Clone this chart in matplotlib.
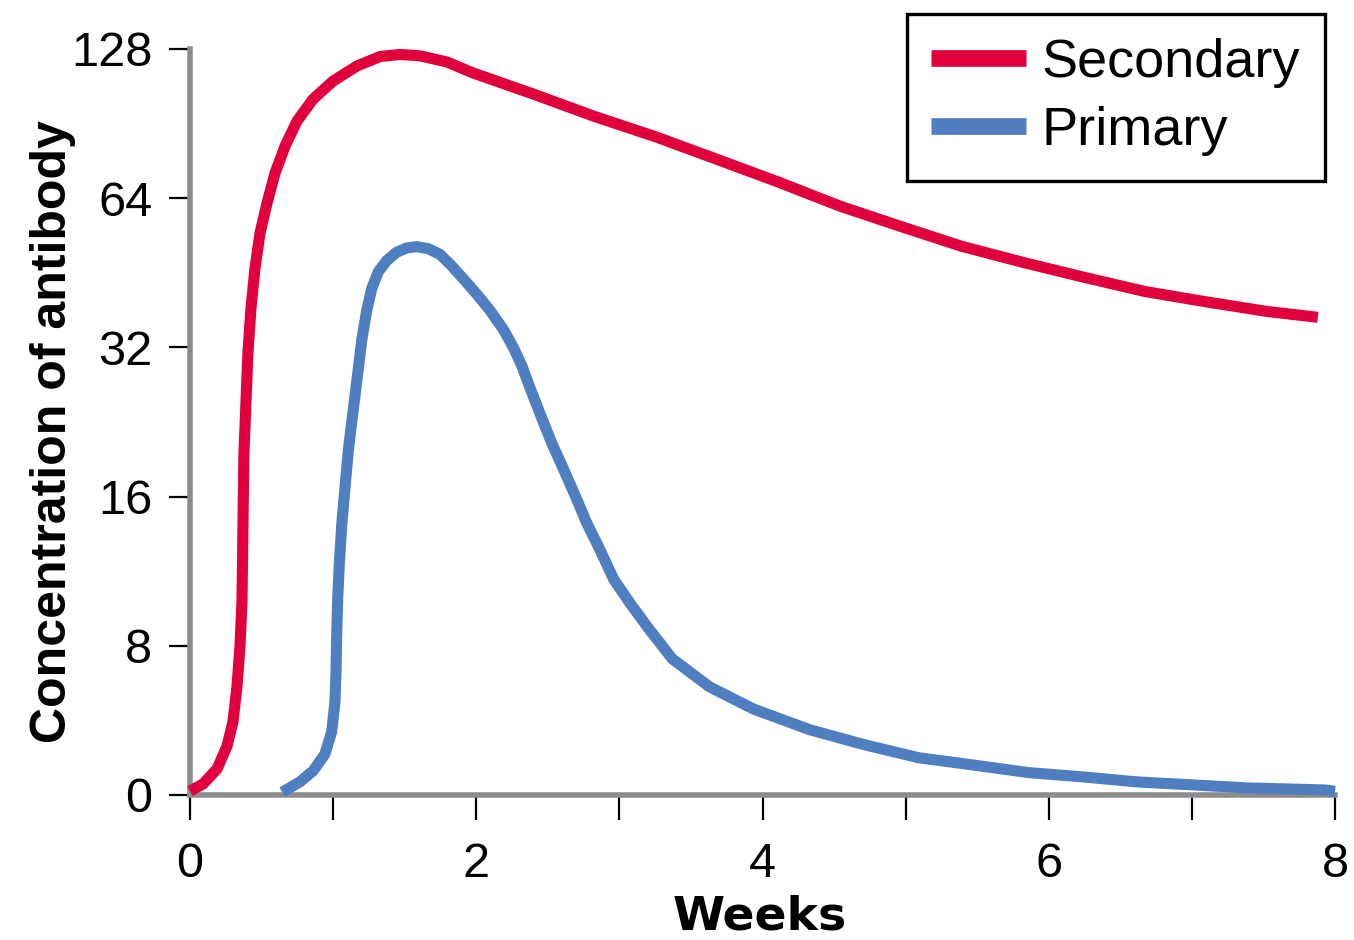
import numpy as np
import matplotlib
matplotlib.use("Agg")
import matplotlib.pyplot as plt

# Antibody concentration after secondary and primary exposure
secondary_weeks = [0.000, 0.091, 0.189, 0.259, 0.300, 0.328, 0.349, 0.363, 0.368,
                   0.372, 0.377, 0.391, 0.405, 0.426, 0.454, 0.489, 0.538, 0.594,
                   0.664, 0.748, 0.860, 1.000, 1.167, 1.328, 1.468, 1.607, 1.796,
                   1.978, 2.40, 2.82, 3.26, 3.68, 4.11, 4.54, 4.96, 5.39, 5.82,
                   6.25, 6.67, 7.11, 7.53, 7.88]
secondary_conc = [0.21, 0.59, 1.40, 2.63, 3.92, 5.80, 7.94, 9.8, 12.4,
                  15.6, 19.6, 24.8, 31.3, 38.4, 46.2, 54.4, 62.5, 71.9,
                  81.5, 91.6, 101.4, 110.3, 118.3, 123.6, 124.8, 124.0, 120.5,
                  114.5, 103.8, 93.7, 85.0, 76.7, 69.0, 61.7, 56.2, 51.2, 47.5,
                  44.3, 41.5, 39.5, 37.8, 36.8]

primary_weeks = [0.645, 0.769, 0.862, 0.943, 0.990, 1.013, 1.020, 1.025, 1.032,
                 1.044, 1.060, 1.083, 1.106, 1.137, 1.169, 1.200, 1.235, 1.270,
                 1.316, 1.375, 1.444, 1.514, 1.584, 1.666, 1.747, 1.829, 1.910,
                 2.003, 2.096, 2.189, 2.259, 2.318, 2.376, 2.446, 2.528, 2.609,
                 2.690, 2.77, 2.87, 2.96, 3.08, 3.20, 3.37, 3.63, 3.94, 4.33,
                 4.71, 5.09, 5.48, 5.86, 6.24, 6.62, 7.01, 7.39, 7.93, 8.00]
primary_conc = [0.15, 0.71, 1.31, 2.2, 3.4, 5.0, 6.6, 8.4, 9.95,
                11.8, 14.0, 16.7, 19.8, 23.5, 27.9, 33.1, 38.0, 42.1,
                45.5, 47.9, 49.8, 50.8, 51.1, 50.6, 49.3, 46.7, 44.0,
                41.0, 38.0, 34.8, 32.0, 29.4, 26.5, 23.5, 20.5, 18.2,
                16.1, 14.2, 12.4, 10.9, 9.7, 8.7, 7.3, 5.8, 4.6, 3.5,
                2.7, 2.0, 1.6, 1.2, 0.97, 0.70, 0.54, 0.38, 0.27, 0.2]

y_ticks = [0, 8, 16, 32, 64, 128]
x_ticks = [0, 1, 2, 3, 4, 5, 6, 7, 8]
x_tick_labels = ["0", "", "2", "", "4", "", "6", "", "8"]

RED = "#E0003C"
BLUE = "#4F7EC1"


# Linear from 0 to 8, doubling steps above 8
def forward(v):
    v = np.asarray(v, dtype=float)
    with np.errstate(divide="ignore", invalid="ignore"):
        logpart = 1.0 + np.log2(np.maximum(v, 1e-12) / 8.0)
    return np.where(v < 8, v / 8.0, logpart)


def inverse(p):
    p = np.asarray(p, dtype=float)
    return np.where(p < 1, 8.0 * p, 8.0 * np.power(2.0, p - 1.0))


fig = plt.figure(figsize=(13.54, 9.40), dpi=100)
ax = fig.add_axes([190 / 1354, 1 - 795 / 940, (1335 - 190) / 1354, (795 - 49) / 940])

ax.plot(secondary_weeks, secondary_conc, color=RED, lw=8, label="Secondary",
        solid_joinstyle="round", solid_capstyle="butt", clip_on=False, zorder=3)
ax.plot(primary_weeks, primary_conc, color=BLUE, lw=8, label="Primary",
        solid_joinstyle="round", solid_capstyle="butt", clip_on=False, zorder=3)

ax.set_yscale("function", functions=(forward, inverse))
ax.set_ylim(0, 128)
ax.set_xlim(0, 8)

ax.set_yticks(y_ticks)
ax.set_yticklabels([str(t) for t in y_ticks], fontfamily="Liberation Sans",
                   fontsize=35)
ax.yaxis.set_minor_locator(matplotlib.ticker.NullLocator())
ax.set_xticks(x_ticks)
ax.set_xticklabels(x_tick_labels, fontfamily="Liberation Sans", fontsize=35)

ax.tick_params(axis="x", direction="out", length=18, width=1.6, color="black",
               pad=16)
ax.tick_params(axis="y", direction="out", length=15, width=1.6, color="black",
               pad=12)

for side in ("top", "right"):
    ax.spines[side].set_visible(False)
for side in ("left", "bottom"):
    ax.spines[side].set_color("#8c8c8c")
    ax.spines[side].set_linewidth(4)

ax.set_xlabel("Weeks", fontfamily="DejaVu Sans", fontweight="bold",
              fontsize=34)
ax.set_ylabel("Concentration of antibody", fontfamily="Liberation Sans",
              fontweight="bold", fontsize=36)
ax.yaxis.set_label_coords(76 / 1354, 1 - 432 / 940, transform=fig.transFigure)
ax.xaxis.set_label_coords(760 / 1354, 1 - 894 / 940, transform=fig.transFigure)

leg = fig.legend(loc="upper right", bbox_to_anchor=(1325 / 1354, 1 - 14 / 940),
                 prop={"family": "Liberation Sans", "size": 39},
                 handlelength=1.75, handletextpad=0.3, borderpad=0.45,
                 labelspacing=0.33, fancybox=False, framealpha=1,
                 edgecolor="black", borderaxespad=0)
leg.get_frame().set_linewidth(2.4)
for line in leg.get_lines():
    line.set_linewidth(12)
    line.set_solid_capstyle("butt")

fig.savefig("out.png", dpi=100, facecolor="white")
